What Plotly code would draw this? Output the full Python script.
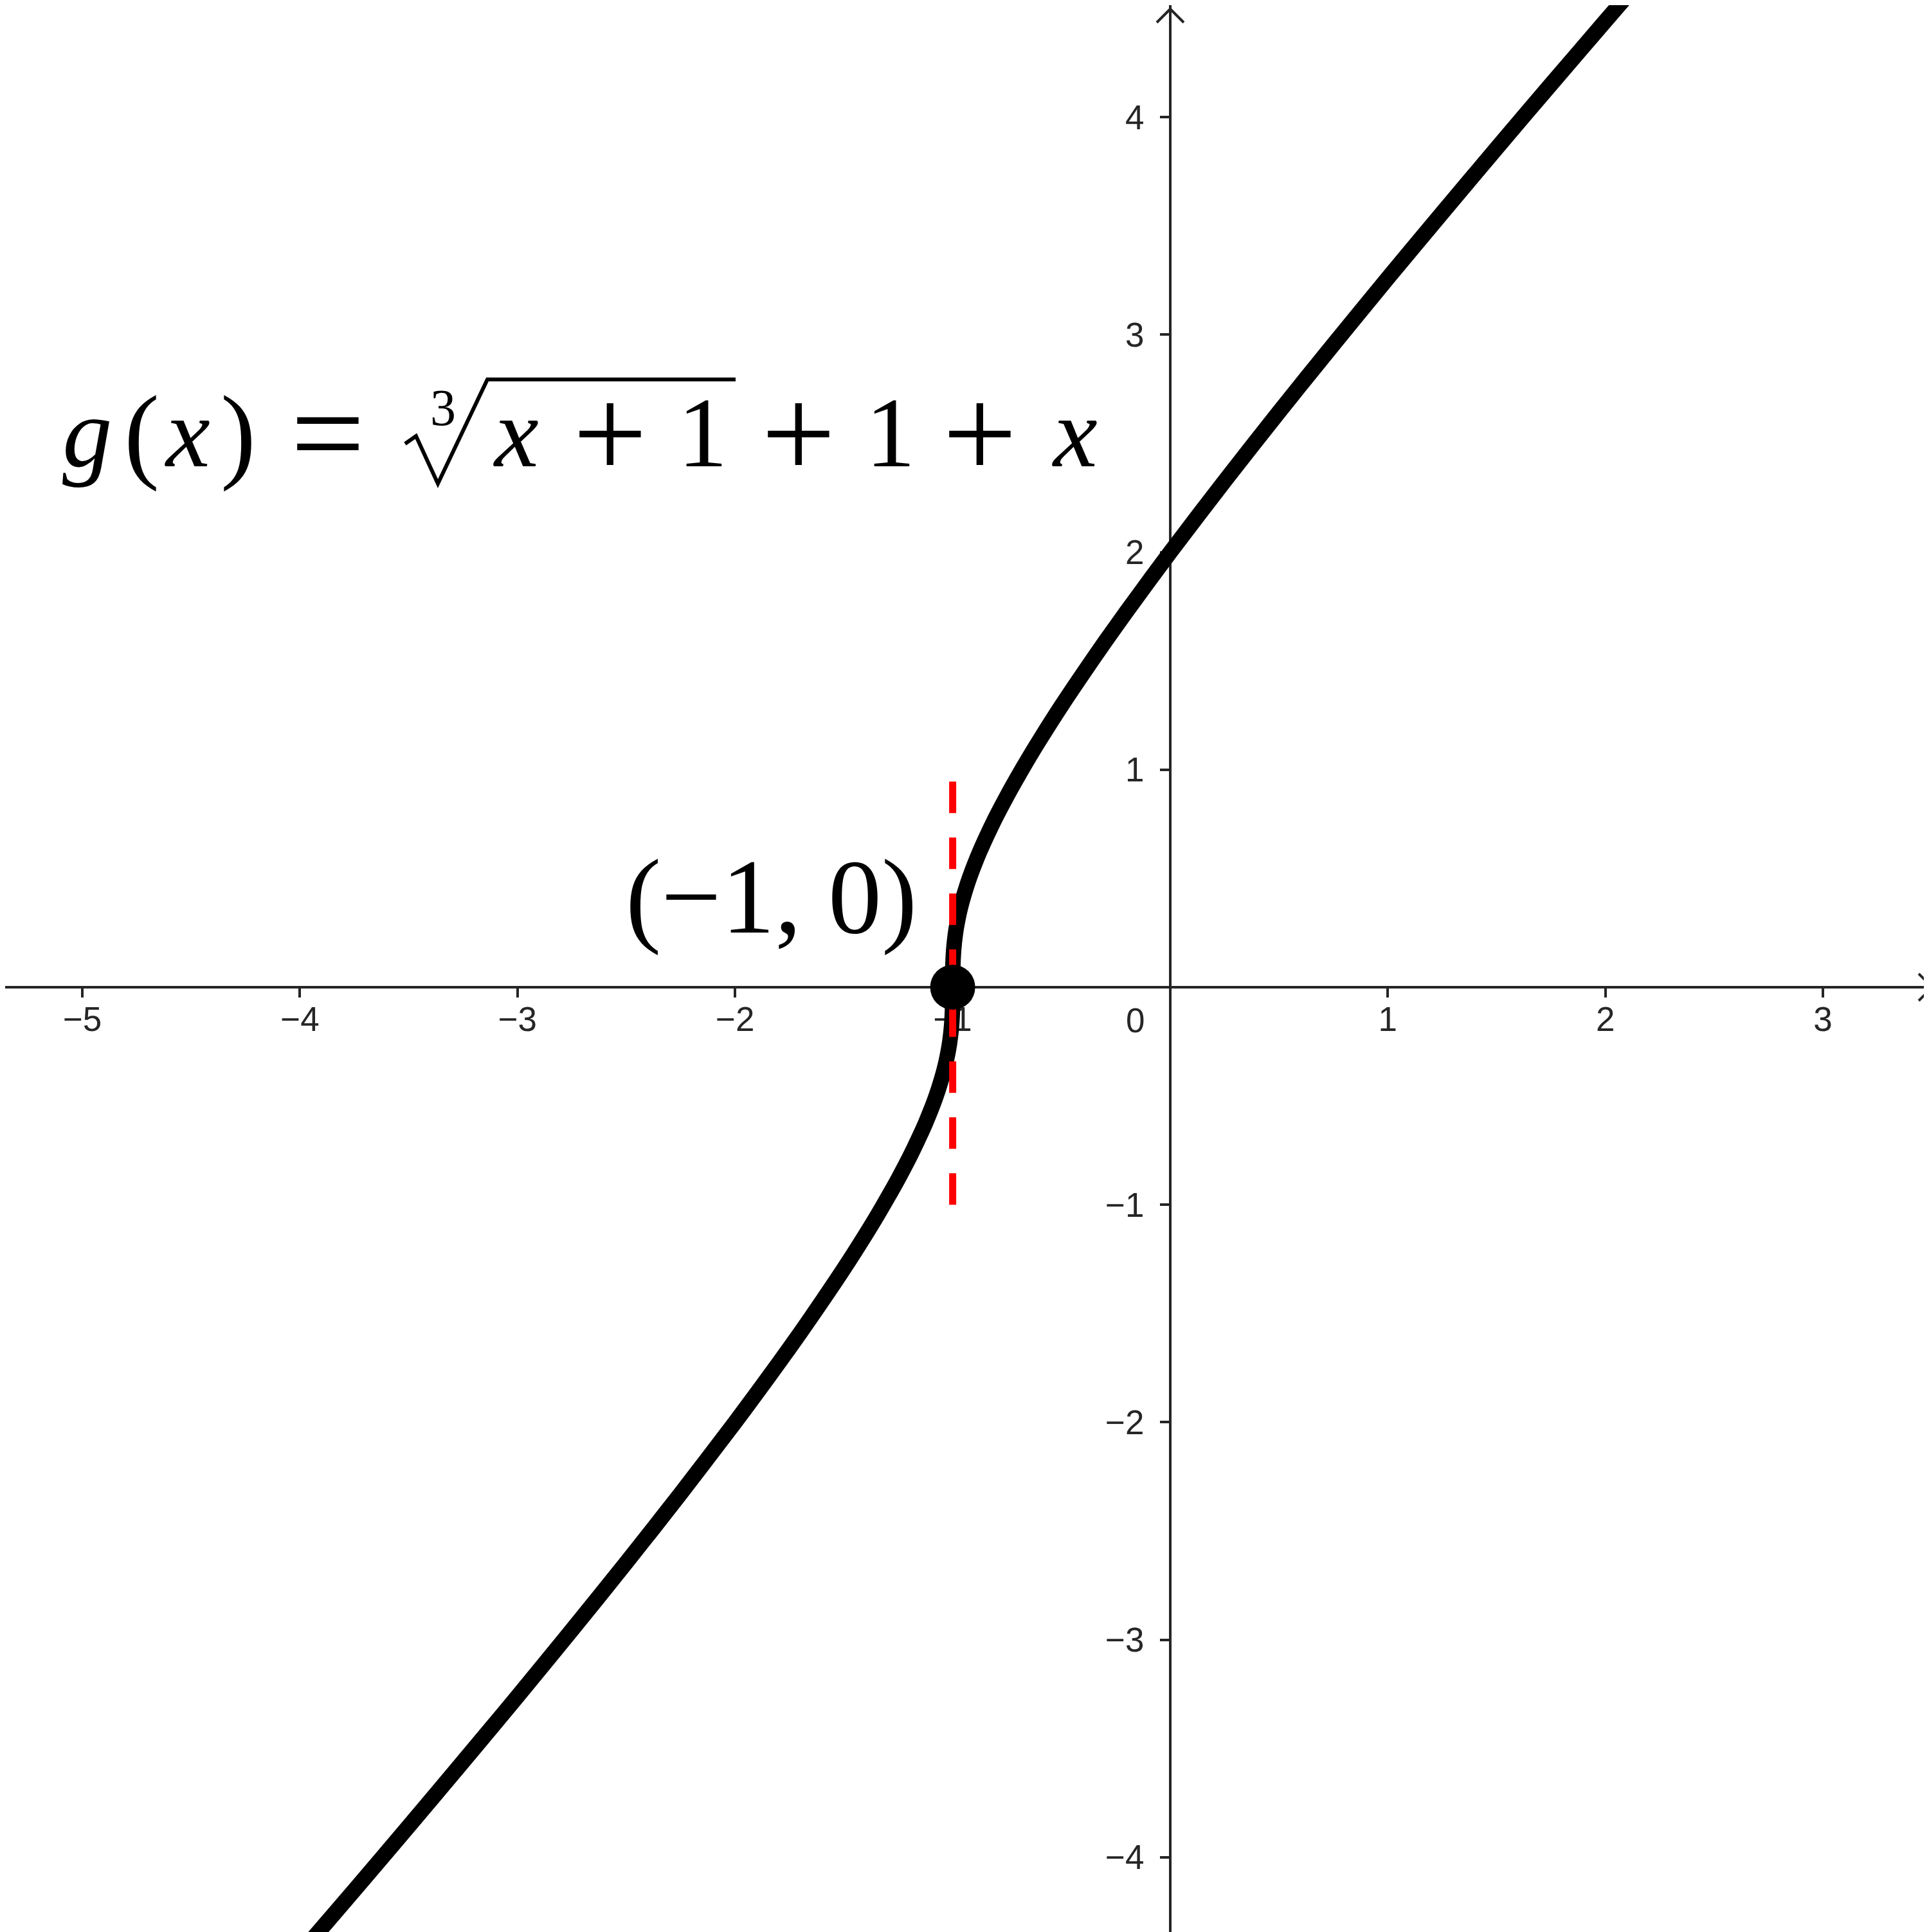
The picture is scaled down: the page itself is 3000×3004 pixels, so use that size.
import plotly.graph_objects as go

W, H = 3000, 3004

# g(x) = cbrt(x+1) + 1 + x
curve_x = [-4.2, -4.0, -3.75, -3.5, -3.25, -3.0, -2.75, -2.5, -2.25, -2.0, -1.9, -1.8,
           -1.7, -1.6, -1.5, -1.4, -1.35, -1.3, -1.25, -1.2, -1.175, -1.15, -1.125,
           -1.1, -1.08, -1.065, -1.05, -1.04, -1.03, -1.02, -1.015, -1.01, -1.0075,
           -1.005, -1.003, -1.002, -1.001, -1.0005, -1.0001, -1.0,
           -0.9999, -0.9995, -0.999, -0.998, -0.997, -0.995, -0.9925, -0.99, -0.985,
           -0.98, -0.97, -0.96, -0.95, -0.935, -0.92, -0.9, -0.875, -0.85, -0.825,
           -0.8, -0.75, -0.7, -0.65, -0.6, -0.5, -0.4, -0.3, -0.2, -0.1, 0.0, 0.25,
           0.5, 0.75, 1.0, 1.25, 1.5, 1.75, 2.0, 2.2]
curve_y = [-4.674, -4.442, -4.151, -3.857, -3.560, -3.260, -2.955, -2.645, -2.327,
           -2.0, -1.865, -1.728, -1.588, -1.443, -1.294, -1.137, -1.055, -0.969, -0.880,
           -0.785, -0.734, -0.681, -0.625, -0.564, -0.511, -0.467, -0.418, -0.382,
           -0.341, -0.291, -0.262, -0.225, -0.203, -0.176, -0.147, -0.128, -0.101,
           -0.080, -0.046, 0.0,
           0.046, 0.080, 0.101, 0.128, 0.147, 0.176, 0.203, 0.225, 0.262, 0.291, 0.341,
           0.382, 0.418, 0.467, 0.511, 0.564, 0.625, 0.681, 0.734, 0.785, 0.880, 0.969,
           1.055, 1.137, 1.294, 1.443, 1.588, 1.728, 1.865, 2.0, 2.327, 2.645, 2.955,
           3.260, 3.560, 3.857, 4.151, 4.442, 4.674]

point_x = [-1]
point_y = [0]
point_label = "(\u22121, 0)"

guide_x = [-1, -1]
guide_y = [-1, 1]

x_ticks = [-5, -4, -3, -2, -1, 1, 2, 3]
y_ticks = [-4, -3, -2, -1, 1, 2, 3, 4]

x_range = [-5.355, 3.511]
y_range = [-4.367, 4.515]

AXIS = "#252525"
TICKFONT = dict(family="Liberation Sans, Arial, sans-serif", size=53, color="#262626")
SERIF = "Liberation Serif, Times New Roman, serif"


def px(x, y):
    # pixel position on the page -> paper coordinates (margins are zero)
    return x / W, 1 - y / H


fig = go.Figure()

fig.add_trace(go.Scatter(x=curve_x, y=curve_y, mode="lines",
                         line=dict(color="black", width=24, shape="spline", smoothing=0.8),
                         hoverinfo="skip"))
fig.add_trace(go.Scatter(x=guide_x, y=guide_y, mode="lines",
                         line=dict(color="#ff0000", width=11, dash="49px,38px")))
fig.add_trace(go.Scatter(x=point_x, y=point_y, mode="markers",
                         marker=dict(color="black", size=70)))

annotations = []

# formula g(x) = cbrt(x+1) + 1 + x, laid out token by token (text, centre px, font size)
formula_tokens = [("<i>g</i>", 128, 155), ("(", 212, 165), ("<i>x</i>", 283, 155),
                  (")", 362, 165), ("=", 502, 205), ("<i>x</i>", 794, 155),
                  ("+", 941, 205), ("1", 1085, 155), ("+", 1234, 205), ("1", 1377, 155),
                  ("+", 1516, 205), ("<i>x</i>", 1663, 155)]
for txt, cx, fs in formula_tokens:
    ax, ay = px(cx, 665)
    annotations.append(dict(x=ax, y=ay, xref="paper", yref="paper", text=txt,
                            showarrow=False, xanchor="center", yanchor="middle",
                            font=dict(family=SERIF, size=fs, color="black")))
ax, ay = px(681, 626)
annotations.append(dict(x=ax, y=ay, xref="paper", yref="paper", text="3", showarrow=False,
                        xanchor="center", yanchor="middle",
                        font=dict(family=SERIF, size=80, color="black")))

# point label
ax, ay = px(1191, 1386)
annotations.append(dict(x=ax, y=ay, xref="paper", yref="paper", text=point_label,
                        showarrow=False, xanchor="center", yanchor="middle",
                        font=dict(family=SERIF, size=166, color="black")))

# origin label
ax, ay = px(1757, 1578)
annotations.append(dict(x=ax, y=ay, xref="paper", yref="paper", text="0", showarrow=False,
                        xanchor="center", yanchor="middle", font=TICKFONT))

shapes = []
# radical sign with vinculum
pts = [(622, 682), (639, 670), (673, 744), (750, 582), (1136, 582)]
path = ""
for i, (x, y) in enumerate(pts):
    a, b = px(x, y)
    path += ("M" if i == 0 else "L") + f"{a:.5f},{b:.5f} "
shapes.append(dict(type="path", path=path, xref="paper", yref="paper",
                   line=dict(color="black", width=6)))

# axis arrow heads
for (tx, ty), arms in [((2997, 1527), [(2976, 1506), (2976, 1548)]),
                       ((1812, 6), [(1791, 27), (1833, 27)])]:
    for (x1, y1) in arms:
        a0, b0 = px(tx, ty)
        a1, b1 = px(x1, y1)
        shapes.append(dict(type="line", xref="paper", yref="paper", x0=a0, y0=b0,
                           x1=a1, y1=b1, line=dict(color=AXIS, width=4)))

axis_common = dict(showline=True, linecolor=AXIS, linewidth=4, ticks="outside",
                   ticklen=14, tickwidth=4, tickcolor=AXIS, showgrid=False,
                   zeroline=False, anchor="free", layer="below traces",
                   tickfont=TICKFONT, fixedrange=True)

fig.update_layout(
    width=W, height=H,
    margin=dict(l=0, r=0, t=0, b=0),
    paper_bgcolor="white", plot_bgcolor="white",
    showlegend=False,
    xaxis=dict(range=x_range, tickvals=x_ticks, ticklabelstandoff=-12,
               position=(0 - y_range[0]) / (y_range[1] - y_range[0]), **axis_common),
    yaxis=dict(range=y_range, tickvals=y_ticks, ticklabelstandoff=14,
               position=(0 - x_range[0]) / (x_range[1] - x_range[0]), **axis_common),
    annotations=annotations,
    shapes=shapes,
)

fig.write_html("out.html")
